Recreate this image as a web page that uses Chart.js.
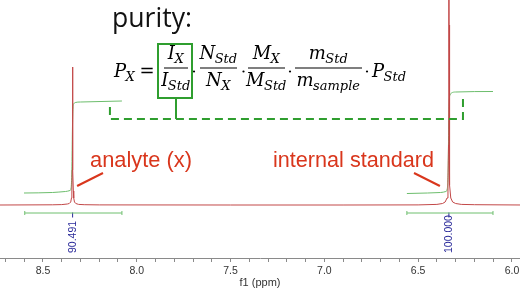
<!DOCTYPE html>
<html>
<head>
<meta charset="utf-8">
<script src="https://cdn.jsdelivr.net/npm/chart.js@4"></script>
<style>
  html, body { margin: 0; padding: 0; background: #fff; }
  #wrap { width: 520px; height: 289px; }
</style>
</head>
<body>
<div id="wrap"><canvas id="nmr"></canvas></div>
<script>
// spectrum (ppm, intensity)
const spectrumPpm = [8.73, 8.45, 8.40, 8.37, 8.36, 8.352, 8.348, 8.346, 8.344, 8.343, 8.342, 8.341, 8.340, 8.338, 8.336, 8.332, 8.325, 8.31, 8.28, 8.2, 7.5, 6.9, 6.5, 6.40, 6.37, 6.356, 6.346, 6.341, 6.338, 6.337, 6.336, 6.335, 6.334, 6.331, 6.326, 6.316, 6.30, 6.27, 6.2, 5.95];
const spectrumInt = [0, 0.2, 0.4, 1, 1.5, 3, 7, 14, 35, 80, 138, 80, 35, 14, 7, 3, 1.5, 0.6, 0.3, 0.1, 0, 0, 0.1, 0.6, 1.5, 3, 7, 20, 60, 180, 400, 180, 60, 20, 7, 3, 1.5, 0.6, 0.3, 0];

// integral curves
const analyteIntPpm = [8.601, 8.45, 8.38, 8.356, 8.350, 8.346, 8.343, 8.340, 8.336, 8.328, 8.30, 8.079];
const analyteIntVal = [12, 12.5, 13.5, 14.5, 17, 35, 75, 97, 101, 102.5, 103, 104];
const stdIntPpm = [6.560, 6.45, 6.38, 6.352, 6.345, 6.340, 6.337, 6.334, 6.330, 6.322, 6.30, 6.101];
const stdIntVal = [11.5, 12, 12.5, 13.5, 16, 35, 80, 105, 110, 112, 113, 113.5];

// integration ranges and values
const integralFrom = [8.597, 6.560];
const integralTo = [8.079, 6.101];
const integralCenter = [8.342, 6.336];
const integralLabels = ['90.491', '100.000'];

// x axis
const axisMin = 5.957;
const axisMax = 8.729;
const tickStep = 0.1;
const axisTitle = 'f1 (ppm)';

// annotation anchors (ppm, intensity)
const analytePointer = [[8.318, 19], [8.180, 32]];
const stdPointer = [[6.522, 32], [6.384, 19]];
const bracketLeftPpm = 8.143;
const bracketRightPpm = 6.261;

const toXY = (xs, ys) => xs.map((x, i) => ({ x: x, y: ys[i] }));

const RED = '#d9361c';
const GREEN = '#2f9e2f';

function fitFont(ctx, text, width, weightStyle, family) {
  ctx.font = weightStyle + ' 20px ' + family;
  const size = 20 * width / ctx.measureText(text).width;
  return weightStyle + ' ' + size.toFixed(2) + 'px ' + family;
}

// base glyph + subscript
const MAIN = 'italic 18px "DejaVu Serif"';
const SUB = 'italic 13px "DejaVu Serif"';
function symWidth(ctx, base, sub) {
  ctx.font = MAIN;
  let w = ctx.measureText(base).width;
  if (sub) { ctx.font = SUB; w += ctx.measureText(sub).width; }
  return w;
}
function drawSym(ctx, base, sub, x, y, center) {
  const w = symWidth(ctx, base, sub);
  let sx = center ? x - w / 2 : x;
  ctx.font = MAIN;
  ctx.fillText(base, sx, y);
  const bw = ctx.measureText(base).width;
  if (sub) { ctx.font = SUB; ctx.fillText(sub, sx + bw - 0.5, y + 4); }
}
function drawFrac(ctx, num, den, x1, x2) {
  const cx = (x1 + x2) / 2;
  drawSym(ctx, num[0], num[1], cx, 59, true);
  drawSym(ctx, den[0], den[1], cx, 86, true);
  ctx.fillRect(x1, 67.5, x2 - x1, 1);
}
function dot(ctx, x) {
  ctx.beginPath();
  ctx.arc(x, 71.5, 1.1, 0, Math.PI * 2);
  ctx.fill();
}

const overlay = {
  id: 'overlay',
  afterDatasetsDraw(chart) {
    const ctx = chart.ctx;
    const xs = chart.scales.x, ys = chart.scales.y;
    const px = v => xs.getPixelForValue(v), py = v => ys.getPixelForValue(v);
    ctx.save();

    // integral values
    ctx.fillStyle = '#2b2b9a';
    ctx.font = '10.5px "Liberation Sans"';
    ctx.textBaseline = 'middle';
    ctx.textAlign = 'left';
    integralCenter.forEach((c, i) => {
      ctx.save();
      ctx.translate(px(c) + 0.5, 253);
      ctx.rotate(-Math.PI / 2);
      ctx.fillText(integralLabels[i], 0, 0);
      ctx.restore();
    });

    // title
    ctx.fillStyle = '#111';
    ctx.textBaseline = 'alphabetic';
    ctx.font = fitFont(ctx, 'purity:', 80, 'normal', '"Open Sans"');
    ctx.fillText('purity:', 112, 27);

    // formula
    ctx.fillStyle = '#000';
    drawSym(ctx, 'P', 'X', 114, 77, false);
    ctx.font = '18px "DejaVu Serif"';
    ctx.textAlign = 'center';
    ctx.fillText('=', 147, 77);
    ctx.textAlign = 'left';
    drawFrac(ctx, ['I', 'X'], ['I', 'Std'], 164, 188);
    dot(ctx, 194);
    drawFrac(ctx, ['N', 'Std'], ['N', 'X'], 200, 237);
    dot(ctx, 243.5);
    drawFrac(ctx, ['M', 'X'], ['M', 'Std'], 248, 285);
    dot(ctx, 290);
    drawFrac(ctx, ['m', 'Std'], ['m', 'sample'], 295, 362);
    dot(ctx, 367);
    drawSym(ctx, 'P', 'Std', 372, 77, false);

    // green box + dashed bracket
    ctx.strokeStyle = GREEN;
    ctx.lineWidth = 2;
    ctx.strokeRect(158, 44, 34, 54);
    ctx.beginPath();
    ctx.moveTo(176, 99); ctx.lineTo(176, py(86));
    ctx.stroke();
    ctx.setLineDash([8, 5]);
    ctx.beginPath();
    ctx.moveTo(px(bracketLeftPpm), py(98));
    ctx.lineTo(px(bracketLeftPpm), py(86));
    ctx.lineTo(px(bracketRightPpm), py(86));
    ctx.lineTo(px(bracketRightPpm), py(106));
    ctx.stroke();
    ctx.setLineDash([]);

    // red labels + pointers
    ctx.fillStyle = RED;
    ctx.strokeStyle = RED;
    ctx.font = fitFont(ctx, 'analyte (x)', 102, 'normal', '"Liberation Sans"');
    ctx.fillText('analyte (x)', 90, 167);
    ctx.font = fitFont(ctx, 'internal standard', 161, 'normal', '"Liberation Sans"');
    ctx.fillText('internal standard', 273, 167);
    ctx.lineWidth = 2;
    [analytePointer, stdPointer].forEach(p => {
      ctx.beginPath();
      ctx.moveTo(px(p[0][0]), py(p[0][1]));
      ctx.lineTo(px(p[1][0]), py(p[1][1]));
      ctx.stroke();
    });
    ctx.restore();
  }
};

const bracketSet = i => ({
  data: [{ x: integralFrom[i], y: -8 }, { x: integralTo[i], y: -8 }],
  borderColor: '#6fbf6f',
  borderWidth: 1,
  pointStyle: 'line',
  rotation: 90,
  pointRadius: 2,
  pointBorderColor: '#6fbf6f',
  pointBorderWidth: 1,
  order: 3
});

new Chart(document.getElementById('nmr'), {
  type: 'line',
  data: {
    datasets: [
      {
        label: 'spectrum',
        data: toXY(spectrumPpm, spectrumInt),
        borderColor: '#c24848',
        borderWidth: 1,
        pointRadius: 0,
        order: 1
      },
      {
        label: 'analyte integral',
        data: toXY(analyteIntPpm, analyteIntVal),
        borderColor: '#6cbd6c',
        borderWidth: 1,
        pointRadius: 0,
        cubicInterpolationMode: 'monotone',
        order: 2
      },
      {
        label: 'standard integral',
        data: toXY(stdIntPpm, stdIntVal),
        borderColor: '#6cbd6c',
        borderWidth: 1,
        pointRadius: 0,
        cubicInterpolationMode: 'monotone',
        order: 2
      },
      bracketSet(0),
      bracketSet(1),
      {
        label: 'integral centers',
        data: integralCenter.map(c => ({ x: c, y: -10 })),
        showLine: false,
        pointStyle: 'line',
        rotation: 90,
        pointRadius: 2.5,
        pointBorderColor: '#2b2b9a',
        pointBorderWidth: 1,
        order: 3
      }
    ]
  },
  options: {
    responsive: true,
    maintainAspectRatio: false,
    animation: false,
    layout: { padding: 0, autoPadding: false },
    plugins: { legend: { display: false }, tooltip: { enabled: false } },
    scales: {
      x: {
        type: 'linear',
        reverse: true,
        min: axisMin,
        max: axisMax,
        afterFit(scale) {
          scale.paddingLeft = 0;
          scale.paddingRight = 0;
          scale.height = 31;
        },
        border: { color: '#8a8a8a' },
        grid: { drawOnChartArea: false, drawTicks: true, tickLength: 4, color: '#8a8a8a' },
        ticks: {
          stepSize: tickStep,
          includeBounds: false,
          autoSkip: false,
          maxRotation: 0,
          padding: 3,
          color: '#333',
          font: { family: 'Liberation Sans', size: 10.5 },
          callback: v => Math.abs(v * 2 - Math.round(v * 2)) < 1e-6 ? v.toFixed(1) : ''
        },
        title: {
          display: true,
          text: axisTitle,
          color: '#333',
          font: { family: 'Liberation Sans', size: 11, lineHeight: 1.1 },
          padding: { top: 0, bottom: 0 }
        }
      },
      y: {
        display: false,
        min: -53,
        max: 205
      }
    }
  },
  plugins: [overlay]
});
</script>
</body>
</html>
